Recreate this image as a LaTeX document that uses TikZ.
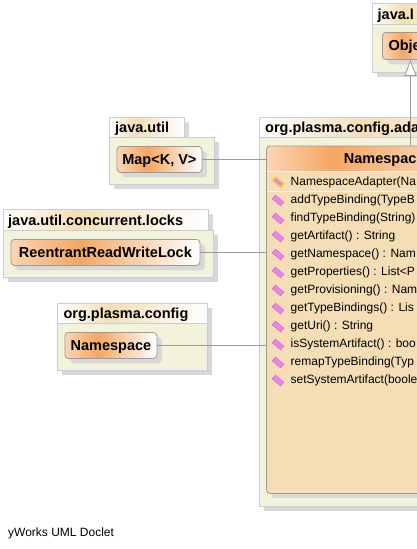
\documentclass[tikz,border=0pt]{standalone}
\usepackage{fontspec}
\setmainfont{Liberation Sans}
\usetikzlibrary{shadows,arrows.meta}
\definecolor{pkgfill}{HTML}{F3F3DC}
\definecolor{pkgline}{HTML}{C6CDE0}
\definecolor{pkgshade}{HTML}{D8D8D8}
\definecolor{classline}{HTML}{9A9A9A}
\definecolor{classfill}{HTML}{F5DEB5}
\definecolor{peach}{HTML}{FBD6B4}
\definecolor{deeporange}{HTML}{F5A662}
\definecolor{iconpink}{HTML}{EE82EE}
\definecolor{iconyellow}{HTML}{EFD93A}
\pgfdeclarehorizontalshading{tabshade}{100bp}{color(0bp)=(white); color(25bp)=(white); color(43bp)=(classfill); color(75bp)=(white); color(100bp)=(white)}
\pgfdeclarehorizontalshading{classshade}{100bp}{color(0bp)=(peach); color(25bp)=(peach); color(43bp)=(deeporange); color(75bp)=(white); color(100bp)=(white)}
\pgfdeclarehorizontalshading{headshade}{100bp}{color(0bp)=(peach); color(25bp)=(peach); color(37bp)=(deeporange); color(75bp)=(white); color(100bp)=(white)}
\tikzset{
  pkgshadow/.style={general shadow={fill=pkgshade, shadow xshift=5pt, shadow yshift=-5pt}},
  pkgbody/.style={draw=pkgline, line width=0.8, fill=pkgfill, anchor=north west, inner sep=0, pkgshadow},
  pkgtab/.style={draw=pkgline, line width=0.8, shading=tabshade, anchor=north west, inner sep=0, pkgshadow},
  boldtext/.style={font=\bfseries\fontsize{14.5}{16}\selectfont, text=black, inner sep=0, text height=10pt, text depth=0pt},
  classbox/.style={draw=classline, line width=0.8, rounded corners=3.5, shading=classshade, anchor=north west, pkgshadow, boldtext},
  member/.style={anchor=west, inner sep=0, font=\fontsize{12}{14}\selectfont},
  methodicon/.style={fill=iconpink, draw=iconpink!75!black, line width=0.3, rotate=-40, minimum width=11, minimum height=5, inner sep=0},
  ctoricon/.style={methodicon, draw=iconyellow, line width=1.4},
  link/.style={draw=classline, line width=0.8}
}
\begin{document}
\begin{tikzpicture}[x=1pt,y=-1pt]
\useasboundingbox (0,0) rectangle (416,549);

% java.lang
\node[pkgtab, minimum width=90, minimum height=21] (langTab) at (371.5,3) {};
\node[boldtext, anchor=west] (langText) at (377.5,14) {java.l};
\node[pkgbody, minimum width=90, minimum height=48] (langBody) at (371.5,24) {};
\node[classbox, minimum width=56, minimum height=27] (objectNode) at (382,32) {};
\node[boldtext, anchor=west] (objectText) at (388.3,45.5) {Obje};

% java.util
\node[pkgtab, minimum width=75, minimum height=20] (utilTab) at (108.5,117) {};
\node[boldtext, anchor=west] (utilText) at (115,127) {java.util};
\node[pkgbody, minimum width=105, minimum height=47] (utilBody) at (108.5,137) {};
\node[classbox, minimum width=85, minimum height=26] (mapNode) at (116.5,146) {Map<K, V>};

% java.util.concurrent.locks
\node[pkgtab, minimum width=205, minimum height=21] (locksTab) at (2.5,209) {};
\node[boldtext, anchor=west] (locksText) at (8,220) {java.util.concurrent.locks};
\node[pkgbody, minimum width=210, minimum height=47] (locksBody) at (2.5,230) {};
\node[classbox, minimum width=189, minimum height=26] (lockNode) at (10.5,239) {ReentrantReadWriteLock};

% org.plasma.config
\node[pkgtab, minimum width=150, minimum height=21] (configTab) at (56.5,303) {};
\node[boldtext, anchor=west] (configText) at (63.3,313) {org.plasma.config};
\node[pkgbody, minimum width=150, minimum height=47] (configBody) at (56.5,323) {};
\node[classbox, minimum width=92, minimum height=26] (namespaceNode) at (64.5,332) {Namespace};

% org.plasma.config.adapter
\node[pkgtab, minimum width=290, minimum height=20] (adapterTab) at (258.5,117) {};
\node[boldtext, anchor=west] (adapterText) at (265,127) {org.plasma.config.ada};
\node[pkgbody, minimum width=300, minimum height=369] (adapterBody) at (258.5,137) {};
\node[fill=classfill, anchor=north west, inner sep=0, minimum width=274, minimum height=347, pkgshadow] (adapterNode) at (266.5,146) {};
\shade[shading=headshade, rounded corners=3.5] (adapterNode.west |- 0,171) -- (adapterNode.north west) -- (adapterNode.north east) -- (adapterNode.east |- 0,171) -- cycle;
\draw[white!60!classfill, line width=1] (adapterNode.west |- 0,171) -- (adapterNode.east |- 0,171);
\draw[white!60!classfill, line width=1] (adapterNode.west |- 0,191) -- (adapterNode.east |- 0,191);
\draw[draw=classline, line width=0.8, rounded corners=3.5] (adapterNode.north west) rectangle (adapterNode.south east);
\node[boldtext, anchor=west] (adapterTitle) at (343.7,158.5) {Namespac};

% members
\node[ctoricon] (ctorIcon) at (278,182) {};
\node[member] (ctorText) at (290.5,182) {NamespaceAdapter(Na};
\foreach \name/\row in {addTypeBinding(TypeB/200.5, findTypeBinding(String)/218.5,
    getArtifact() : String/236.5, getNamespace() : Nam/254.5, getProperties() : List<P/272.5,
    getProvisioning() : Nam/290.5, getTypeBindings() : Lis/308.5, getUri() : String/326.5,
    isSystemArtifact() : boo/344.5, remapTypeBinding(Typ/362.5, setSystemArtifact(boole/380.5}
{
  \node[methodicon] at (278,\row) {};
  \node[member] at (290.5,\row) {\name};
}

% links
\draw[link] (mapNode.east) -- (adapterNode.west |- mapNode.east);
\draw[link] (lockNode.east) -- (adapterNode.west |- lockNode.east);
\draw[link] (namespaceNode.east) -- (adapterNode.west |- namespaceNode.east);
\draw[link, -{Triangle[open, fill=white, length=16pt, width=12pt]}] (objectNode.south |- adapterNode.north) -- (objectNode.south);

\node[anchor=west, inner sep=0, font=\fontsize{12}{14}\selectfont] (docletText) at (8,533) {yWorks UML Doclet};

\end{tikzpicture}
\end{document}
